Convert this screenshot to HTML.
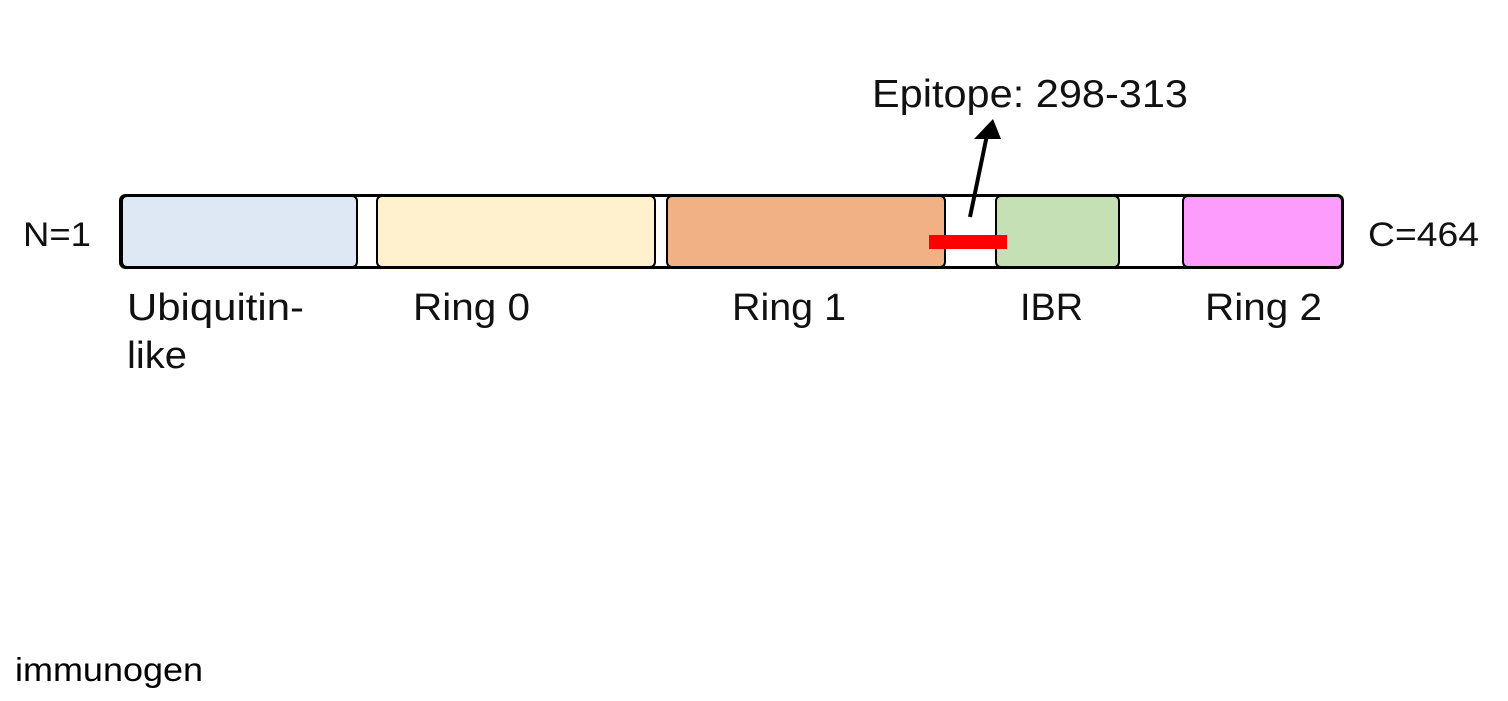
<!DOCTYPE html>
<html><head><meta charset="utf-8"><style>
html,body{margin:0;padding:0;background:#fff;width:1508px;height:701px;overflow:hidden}
svg text{font-family:"Liberation Sans",sans-serif;fill:#111}
</style></head><body>
<svg width="1508" height="701" xmlns="http://www.w3.org/2000/svg">
<rect x="120.5" y="195.5" width="1222" height="72" rx="5" fill="#fff" stroke="#000" stroke-width="3"/>
<rect x="122" y="196" width="235" height="71" rx="5" fill="#dee8f5" stroke="#000" stroke-width="2"/>
<rect x="377" y="196" width="278" height="71" rx="5" fill="#fff1cd" stroke="#000" stroke-width="2"/>
<rect x="667" y="196" width="278" height="71" rx="5" fill="#f2b085" stroke="#000" stroke-width="2"/>
<rect x="996" y="196" width="123" height="71" rx="5" fill="#c6e0b5" stroke="#000" stroke-width="2"/>
<rect x="1183" y="196" width="159" height="71" rx="5" fill="#fe9cfe" stroke="#000" stroke-width="2"/>
<rect x="929" y="235" width="78" height="14" fill="#ff0000"/>
<line x1="970" y1="217" x2="987" y2="135" stroke="#000" stroke-width="4"/>
<polygon points="993,119 974,139 1001,139" fill="#000"/>
<text x="872" y="107" font-size="39" textLength="316" lengthAdjust="spacingAndGlyphs">Epitope: 298-313</text>
<text x="23" y="246" font-size="34" textLength="68" lengthAdjust="spacingAndGlyphs">N=1</text>
<text x="1368" y="246" font-size="34" textLength="111" lengthAdjust="spacingAndGlyphs">C=464</text>
<text x="127" y="320" font-size="38" textLength="177" lengthAdjust="spacingAndGlyphs">Ubiquitin-</text>
<text x="127" y="368" font-size="38" textLength="60" lengthAdjust="spacingAndGlyphs">like</text>
<text x="413" y="320" font-size="38" textLength="117" lengthAdjust="spacingAndGlyphs">Ring 0</text>
<text x="732" y="320" font-size="38" textLength="114" lengthAdjust="spacingAndGlyphs">Ring 1</text>
<text x="1020" y="320" font-size="38" textLength="63" lengthAdjust="spacingAndGlyphs">IBR</text>
<text x="1205" y="320" font-size="38" textLength="117" lengthAdjust="spacingAndGlyphs">Ring 2</text>
<text x="15" y="681" font-size="33" textLength="188" lengthAdjust="spacingAndGlyphs" style="fill:#000">immunogen</text>
</svg>
</body></html>
